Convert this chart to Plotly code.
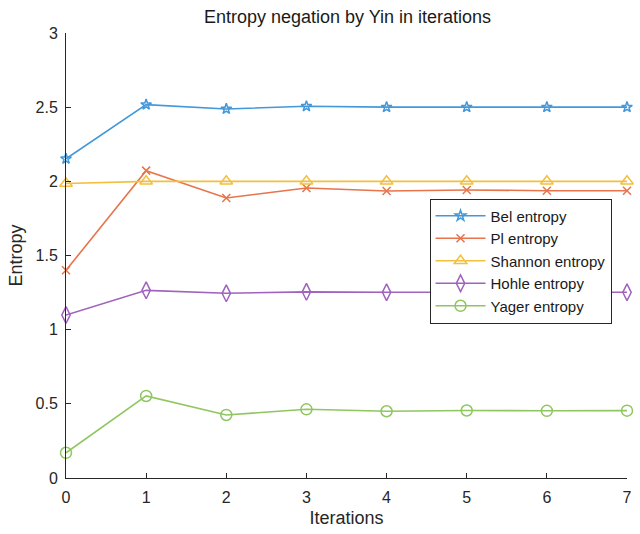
import plotly.graph_objects as go

# Entropy values per iteration of the Yin negation
iterations = [0, 1, 2, 3, 4, 5, 6, 7]
bel_entropy = [2.152, 2.517, 2.488, 2.506, 2.500, 2.500, 2.500, 2.500]
pl_entropy = [1.400, 2.072, 1.888, 1.955, 1.935, 1.942, 1.937, 1.937]
shannon_entropy = [1.985, 2.000, 2.000, 2.000, 2.000, 2.000, 2.000, 2.000]
hohle_entropy = [1.099, 1.265, 1.245, 1.255, 1.252, 1.252, 1.252, 1.252]
yager_entropy = [0.170, 0.553, 0.425, 0.463, 0.450, 0.455, 0.453, 0.454]

series = [
    ("Bel entropy", bel_entropy, "#4398da", "star-open", 8),
    ("Pl entropy", pl_entropy, "#e7744a", "x-thin-open", 8),
    ("Shannon entropy", shannon_entropy, "#f2c03e", "triangle-up-open", 11),
    ("Hohle entropy", hohle_entropy, "#a063bd", "diamond-tall-open", 12),
    ("Yager entropy", yager_entropy, "#8fc660", "circle-open", 11),
]

font_family = "Liberation Sans, Arial, sans-serif"
axis_color = "#262626"

fig = go.Figure()
for name, values, color, symbol, size in series:
    fig.add_trace(go.Scatter(
        x=iterations, y=values, name=name, mode="lines+markers",
        line=dict(color=color, width=1.6),
        marker=dict(symbol=symbol, size=size, color=color,
                    line=dict(color=color, width=1.5)),
        cliponaxis=False,
    ))

axis_common = dict(
    showline=True, linecolor=axis_color, linewidth=1,
    ticks="inside", ticklen=5, tickcolor=axis_color,
    showgrid=False, zeroline=False, mirror=False,
    tickfont=dict(family=font_family, size=16, color=axis_color),
)

fig.update_layout(
    width=640, height=534,
    margin=dict(l=66, r=8, t=33, b=56),
    paper_bgcolor="white", plot_bgcolor="white",
    title=dict(text="Entropy negation by Yin in iterations",
               x=0.543, xanchor="center", y=0.968, yanchor="middle",
               font=dict(family=font_family, size=18, color="#1a1a1a")),
    xaxis=dict(range=[0, 7], tickvals=iterations, ticklabelstandoff=5, **axis_common,
               title=dict(text="Iterations", standoff=6,
                          font=dict(family=font_family, size=18, color=axis_color))),
    yaxis=dict(range=[0, 3], tickvals=[0, 0.5, 1, 1.5, 2, 2.5, 3],
               ticktext=["0", "0.5", "1", "1.5", "2", "2.5", "3"],
               ticklabelstandoff=4, **axis_common,
               title=dict(text="Entropy", standoff=8,
                          font=dict(family=font_family, size=18, color=axis_color))),
    legend=dict(x=0.648, y=0.628, xanchor="left", yanchor="top",
                bgcolor="white", bordercolor="#262626", borderwidth=1,
                itemwidth=50, tracegroupgap=0,
                font=dict(family=font_family, size=15, color="#1a1a1a")),
    showlegend=True,
)

fig.write_html("out.html")
